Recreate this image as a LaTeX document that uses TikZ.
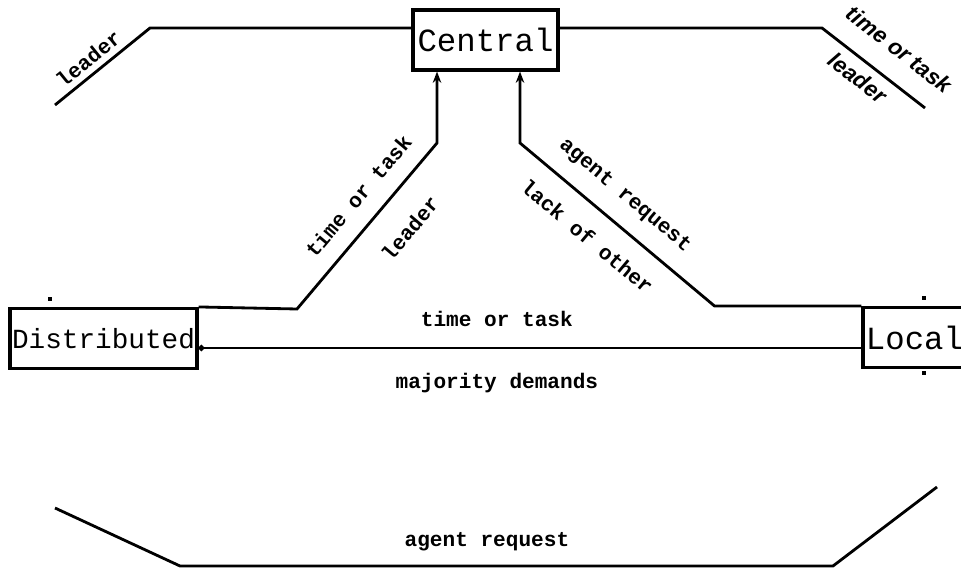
\documentclass[tikz,border=0pt]{standalone}
\usepackage{fontspec}
\setmonofont{Liberation Mono}
\newfontfamily\slantsans{Liberation Sans}
\usetikzlibrary{arrows.meta}

\begin{document}
\begin{tikzpicture}[
		x=0.025cm, y=-0.025cm,
		line width=2pt,
		box/.style={rectangle, draw, line width=2.2pt, inner sep=1pt, minimum height=1.5cm,
			font=\ttfamily\fontsize{23}{24}\selectfont},
		lbl/.style={font=\ttfamily\bfseries\fontsize{15}{16}\selectfont, inner sep=2pt},
		ilbl/.style={font=\slantsans\bfseries\itshape\fontsize{16}{17}\selectfont, inner sep=2pt},
		>={Stealth[length=8pt, width=6pt]}
	]
  \useasboundingbox (0,0) rectangle (961,570);
  \node (central) [box, minimum width=3.625cm] at (485.5,40) {Central};
  \node (dist) [box, minimum width=4.675cm, font=\ttfamily\fontsize{19.7}{21}\selectfont] at (103.5,338.5) {Distributed};
  \node (local) [box, minimum width=2.6cm, text width=2.45cm, align=left] at (915,337.5) {Local};
  \coordinate (tl) at (55,105);
  \coordinate (tr) at (925,108);
  \coordinate (bl) at (55,508);
  \coordinate (br) at (937,487);
  \draw (central.west |- 0,28) -- (150,28) -- node[lbl, sloped, above=2pt, pos=0.55] {leader} (tl);
  \draw (central.east |- 0,28) -- (822,28)
    -- node[ilbl, sloped, above=13pt, pos=0.57] {time or task} node[ilbl, sloped, below=3.5pt, pos=0.45] {leader} (tr);
  \draw[->] (dist.north east) -- (297,309)
    -- node[lbl, sloped, above=10pt, pos=0.58] {time or task} node[lbl, sloped, below=16pt, pos=0.62] {leader} (437,143)
    -- (central.south -| 437,0);
  \draw[->] (local.north west) -- ++(-147,0)
    -- node[lbl, sloped, above=9.5pt, pos=0.55] {agent request} node[lbl, sloped, below=11.5pt, pos=0.56] {lack of other} (520,143)
    -- (central.south -| 520,0);
  \draw[-{Circle[length=4pt]}] (local.west |- 0,348)
    -- node[lbl, pos=0.55, yshift=20.5pt] {time or task} node[lbl, pos=0.55, yshift=-25pt] {majority demands} (dist.east |- 0,348);
  \draw (bl) -- (180,566) -- node[lbl, pos=0.47, yshift=17pt] {agent request} (833,566) -- (br);
  % specks
  \fill (48,297) rectangle (52,301);
  \fill (922,296) rectangle (926,300);
  \fill (922,371) rectangle (926,375);
\end{tikzpicture}
\end{document}
